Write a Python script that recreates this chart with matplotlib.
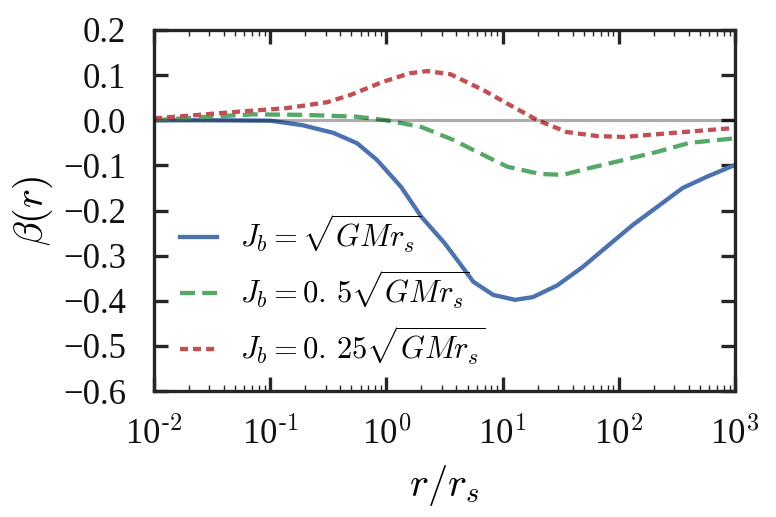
import matplotlib
matplotlib.use("Agg")
import matplotlib.pyplot as plt
from matplotlib.ticker import FixedLocator, FixedFormatter, LogLocator, NullFormatter

plt.rcParams['font.family'] = ['Liberation Serif', 'DejaVu Serif']
plt.rcParams['mathtext.fontset'] = 'cm'
plt.rcParams['lines.scale_dashes'] = False

# data
r_blue = [0.01, 0.03, 0.1, 0.19, 0.35, 0.56, 0.83, 1.34, 2.0, 3.16, 4.0, 5.6, 8.3,
          12.8, 18.2, 29.5, 49, 79, 132, 214, 355, 575, 1000]
b_blue = [0.0, 0.0, -0.001, -0.011, -0.028, -0.051, -0.088, -0.148, -0.214, -0.272,
          -0.307, -0.358, -0.387, -0.398, -0.392, -0.366, -0.325, -0.28, -0.232,
          -0.192, -0.15, -0.125, -0.099]

r_green = [0.01, 0.03, 0.072, 0.19, 0.55, 1.0, 2.0, 3.8, 5.6, 11, 21, 33, 56, 110,
           214, 407, 1000]
b_green = [0.0, 0.008, 0.013, 0.012, 0.008, 0.0, -0.015, -0.044, -0.066, -0.103,
           -0.119, -0.121, -0.106, -0.088, -0.070, -0.050, -0.040]

r_red = [0.01, 0.038, 0.14, 0.31, 0.49, 0.93, 1.58, 2.24, 3.55, 6.8, 11.5, 20,
         35.5, 65, 110, 295, 1000]
b_red = [0.004, 0.016, 0.027, 0.040, 0.056, 0.085, 0.104, 0.109, 0.102, 0.067,
         0.034, 0.0, -0.026, -0.035, -0.037, -0.028, -0.017]

labels = [r'$J_b=\sqrt{GMr_s}$', r'$J_b=0.\,5\sqrt{GMr_s}$',
          r'$J_b=0.\,25\sqrt{GMr_s}$']
xticks = [1e-2, 1e-1, 1e0, 1e1, 1e2, 1e3]
xticklabels = [r'10$^{\text{-}2}$', r'10$^{\text{-}1}$', r'10$^{0}$', r'10$^{1}$',
               r'10$^{2}$', r'10$^{3}$']
yticks = [0.2, 0.1, 0.0, -0.1, -0.2, -0.3, -0.4, -0.5, -0.6]

fig = plt.figure(figsize=(7.76, 5.17), dpi=100)
ax = fig.add_axes([154/776, 1-391/517, (735-154)/776, (391-30)/517])

dark = '#262626'
lw = 3.1
ax.plot(r_blue, b_blue, color='#4C72B0', lw=lw, label=labels[0])
ax.plot(r_green, b_green, color='#55A868', lw=lw, dashes=(10.8, 5.2), label=labels[1])
ax.plot(r_red, b_red, color='#C44E52', lw=lw, dashes=(5.8, 3.6), label=labels[2])
ax.axhline(0, color='k', alpha=0.32, lw=2.3, zorder=3)

ax.set_xscale('log')
ax.set_xlim(1e-2, 1e3)
ax.set_ylim(-0.6, 0.2)
ax.xaxis.set_major_locator(FixedLocator(xticks))
ax.xaxis.set_major_formatter(FixedFormatter(xticklabels))
ax.xaxis.set_minor_locator(LogLocator(base=10, subs=range(2, 10), numticks=20))
ax.xaxis.set_minor_formatter(NullFormatter())
ax.set_yticks(yticks)

for s in ax.spines.values():
    s.set_linewidth(2.4)
    s.set_color(dark)
ax.tick_params(which='major', direction='in', length=10, width=2.4, color=dark,
               top=True, right=True, labelsize=25, labelcolor='#111111')
ax.tick_params(which='minor', direction='in', length=4.5, width=1.0, color=dark,
               top=True, right=True)
ax.tick_params(axis='y', which='major', pad=20)
ax.tick_params(axis='x', which='major', pad=19)

ax.set_xlabel(r'$r/r_s$', fontsize=29, labelpad=8)
ax.set_ylabel(r'$\beta(r)$', fontsize=29, labelpad=6)

leg = ax.legend(loc='lower left', bbox_to_anchor=(-0.002, -0.01), frameon=False,
                fontsize=22, handlelength=1.2, labelspacing=0.45, handletextpad=0.75)

fig.savefig('out.png', dpi=100)
